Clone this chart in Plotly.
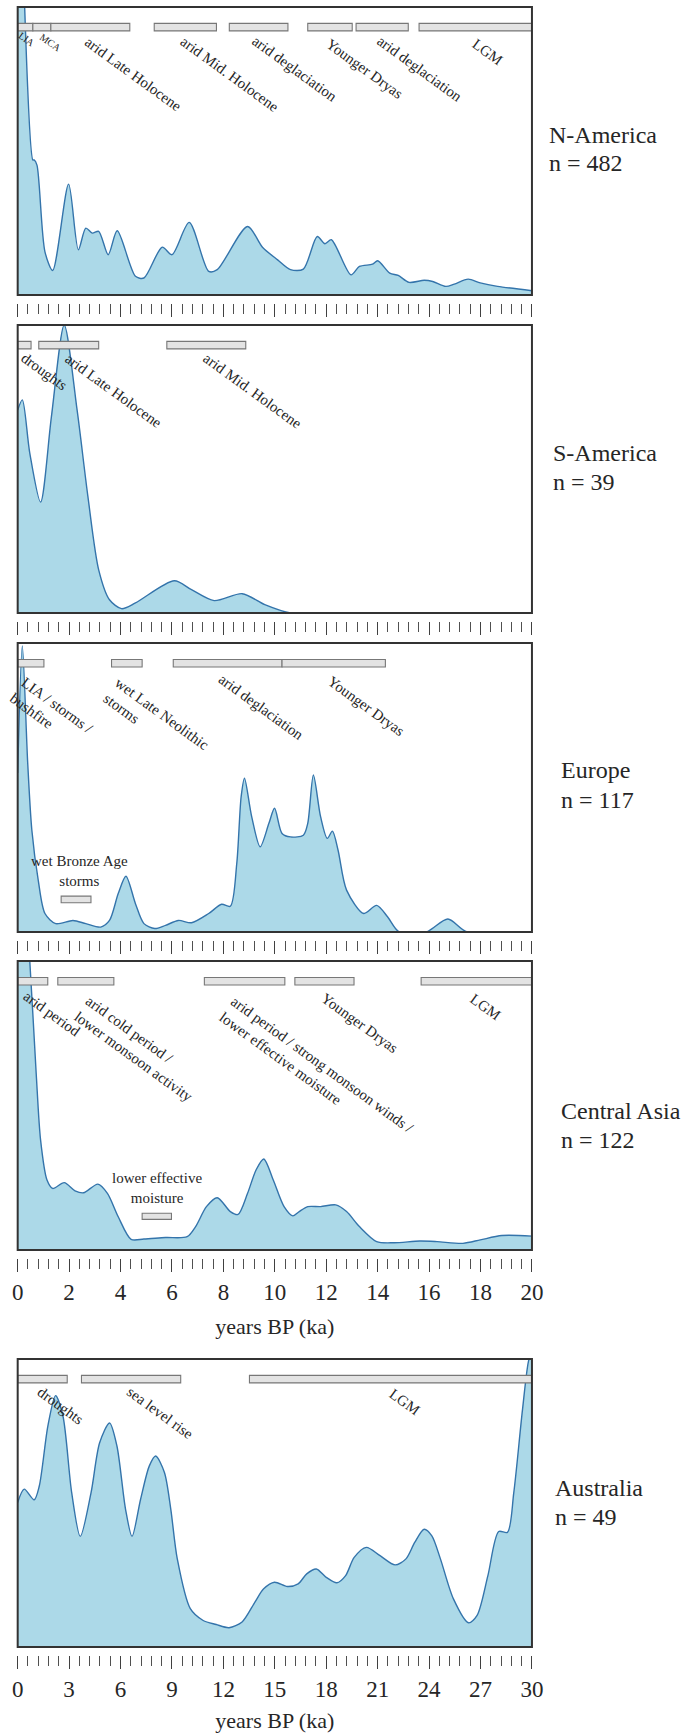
import plotly.graph_objects as go

# ---------------------------------------------------------------
# Summed probability of dated events (relative density) vs age
# ---------------------------------------------------------------

# N-America
na_age = [0, 0.10, 0.25, 0.59, 0.64, 0.75, 1.06, 1.36, 1.98, 2.36, 2.65, 2.90, 3.15, 3.52,
          3.87, 4.58, 4.91, 5.62, 6.00, 6.67, 7.43, 7.76, 8.94, 9.52, 10.11, 10.61, 11.11,
          11.65, 11.95, 12.20, 12.96, 13.29, 13.80, 14.00, 14.47, 14.80, 15.22, 15.81, 16.14,
          16.65, 16.98, 17.52, 17.99, 18.66, 20.0]
na_density = [1.30, 1.50, 1.05, 0.469, 0.469, 0.451, 0.150, 0.085, 0.385, 0.157, 0.232, 0.215,
              0.221, 0.140, 0.223, 0.065, 0.059, 0.166, 0.140, 0.252, 0.082, 0.088, 0.238, 0.166,
              0.122, 0.088, 0.090, 0.203, 0.178, 0.192, 0.070, 0.099, 0.107, 0.119, 0.076, 0.068,
              0.044, 0.051, 0.047, 0.030, 0.038, 0.055, 0.042, 0.030, 0.015]

# S-America
sa_age = [0, 0.18, 0.47, 0.89, 1.31, 1.81, 2.31, 2.73, 3.15, 3.57, 4.04, 4.58, 6.09, 6.76,
          7.64, 8.73, 9.61, 10.61, 12.0, 20.0]
sa_density = [0.705, 0.740, 0.555, 0.385, 0.680, 1.0, 0.705, 0.405, 0.150, 0.046, 0.015, 0.035,
              0.112, 0.081, 0.043, 0.067, 0.029, 0.0, 0.0, 0.0]

# Europe
eu_age = [0, 0.18, 0.39, 0.55, 0.80, 1.06, 1.48, 2.15, 2.65, 3.23, 3.57, 3.91, 4.21, 4.58,
          4.91, 5.33, 5.75, 6.25, 6.76, 7.43, 7.93, 8.27, 8.52, 8.69, 8.82, 9.10, 9.43, 9.77,
          9.99, 10.28, 10.61, 11.11, 11.28, 11.50, 11.78, 12.04, 12.24, 12.46, 12.79, 13.46,
          13.96, 14.39, 14.84, 15.89, 16.73, 17.48, 20.0]
eu_density = [0.55, 0.99, 0.584, 0.353, 0.179, 0.064, 0.029, 0.040, 0.029, 0.017, 0.040, 0.133,
              0.193, 0.098, 0.029, 0.012, 0.023, 0.040, 0.032, 0.064, 0.096, 0.089, 0.237, 0.468,
              0.532, 0.399, 0.295, 0.376, 0.428, 0.341, 0.329, 0.335, 0.376, 0.543, 0.399, 0.324,
              0.349, 0.283, 0.145, 0.064, 0.092, 0.052, 0.0, 0.0, 0.045, 0.0, 0.0]

# Central Asia
ca_age = [0, 0.30, 0.47, 0.72, 0.89, 1.14, 1.36, 1.81, 2.23, 2.56, 3.12, 3.49, 3.91, 4.41,
          4.91, 5.75, 6.59, 6.92, 7.34, 7.76, 8.27, 8.57, 8.94, 9.27, 9.57, 9.94, 10.36, 10.70,
          10.95, 11.28, 11.78, 12.37, 12.79, 13.29, 13.96, 14.64, 15.64, 16.31, 17.32, 17.99,
          18.83, 20.0]
ca_density = [1.4, 1.2, 1.0, 0.611, 0.381, 0.242, 0.213, 0.233, 0.205, 0.198, 0.228, 0.196,
              0.115, 0.037, 0.038, 0.043, 0.046, 0.081, 0.150, 0.181, 0.133, 0.123, 0.196, 0.277,
              0.315, 0.242, 0.150, 0.118, 0.133, 0.150, 0.150, 0.156, 0.133, 0.081, 0.029, 0.025,
              0.031, 0.029, 0.023, 0.035, 0.050, 0.048]

# Australia
au_age = [0, 0.38, 0.96, 1.26, 1.76, 2.21, 2.64, 3.15, 3.65, 4.28, 4.78, 5.36, 5.79, 6.29,
          6.67, 7.17, 7.68, 8.05, 8.56, 8.93, 9.31, 10.07, 10.82, 11.58, 12.33, 13.09, 13.84,
          14.35, 14.98, 15.73, 16.36, 16.86, 17.42, 18.00, 18.62, 19.13, 19.63, 20.34, 21.14,
          22.02, 22.65, 23.16, 23.71, 24.16, 24.66, 25.42, 26.30, 26.80, 27.43, 28.06, 28.57,
          28.94, 29.45, 29.82, 30.0]
au_density = [0.502, 0.548, 0.511, 0.559, 0.767, 0.873, 0.802, 0.536, 0.384, 0.536, 0.709,
              0.778, 0.698, 0.479, 0.384, 0.513, 0.629, 0.663, 0.606, 0.479, 0.306, 0.133,
              0.092, 0.078, 0.067, 0.087, 0.156, 0.202, 0.225, 0.210, 0.219, 0.254, 0.271,
              0.242, 0.223, 0.248, 0.311, 0.346, 0.317, 0.285, 0.306, 0.363, 0.409, 0.386,
              0.306, 0.167, 0.084, 0.110, 0.248, 0.401, 0.398, 0.536, 0.825, 0.998, 1.02]

# Regions and sample sizes
regions = ["N-America", "S-America", "Europe", "Central Asia", "Australia"]
sample_n = [482, 39, 117, 122, 49]

# Climate periods (name, start ka, end ka)
na_periods = ["LIA", "MCA", "arid Late Holocene", "arid Mid. Holocene", "arid deglaciation",
              "Younger Dryas", "arid deglaciation", "LGM"]
na_period_start = [0, 0.59, 1.29, 5.31, 8.23, 11.28, 13.16, 15.61]
na_period_end = [0.59, 1.29, 4.36, 7.73, 10.51, 13.01, 15.19, 20.0]

sa_periods = ["droughts", "arid Late Holocene", "arid Mid. Holocene"]
sa_period_start = [0, 0.82, 5.80]
sa_period_end = [0.52, 3.15, 8.87]

eu_periods = ["LIA / storms /<br>bushfire", "wet Late Neolithic<br>storms",
              "arid deglaciation", "Younger Dryas", "wet Bronze Age<br>storms"]
eu_period_start = [0, 3.65, 6.05, 10.28, 1.69]
eu_period_end = [1.02, 4.84, 10.28, 14.30, 2.85]

ca_periods = ["arid period", "arid cold period /<br>lower monsoon activity",
              "arid period / strong monsoon winds /<br>lower effective moisture",
              "Younger Dryas", "LGM", "lower effective<br>moisture"]
ca_period_start = [0, 1.56, 7.26, 10.78, 15.69, 4.84]
ca_period_end = [1.17, 3.74, 10.39, 13.08, 20.0, 5.98]

au_periods = ["droughts", "sea level rise", "LGM"]
au_period_start = [0, 3.72, 13.52]
au_period_end = [2.89, 9.51, 30.0]

# Axis ticks
x_max = [20, 20, 20, 20, 30]
major_step = [2, 2, 2, 2, 3]
minor_step = [0.4, 0.4, 0.4, 0.4, 0.6]
axis_title = "years BP (ka)"

# ---------------------------------------------------------------
# Layout geometry (pixels of the page)
# ---------------------------------------------------------------
W, H = 692, 1733
FONT = "'Liberation Serif', 'Times New Roman', Times, serif"
FILL = "#acd9e8"
LINE = "#3474ab"
BOX = "#333333"
TXT = "#262626"

panel_left, panel_right = 12, 540
panel_top = [7, 325, 643, 961, 1359]
panel_bottom = [295, 613, 932, 1250, 1647]
tick_gap = 8
show_labels = [False, False, False, True, True]
region_label_px = [(555, 135, 163), (560, 453, 482), (568, 770, 800),
                   (568, 1111, 1140), (562, 1488, 1517)]

# label placement: (x in ka, y as fraction of panel height, font size, angle)
bar_band = (0.917, 0.943)
na_place = [(0.36, 0.887, 10, 35), (1.28, 0.877, 10, 35), (4.49, 0.769, 15, 36),
            (8.23, 0.767, 15, 36), (10.78, 0.784, 15, 36), (13.50, 0.784, 15, 36),
            (15.64, 0.784, 15, 36), (18.27, 0.844, 15, 36)]
sa_place = [(1.06, 0.838, 15, 36), (3.74, 0.772, 15, 36), (9.14, 0.772, 15, 36)]
eu_place = [(1.33, 0.754, 15, 36), (5.38, 0.726, 15, 36), (9.47, 0.780, 15, 36),
            (13.55, 0.783, 15, 36), (2.40, 0.212, 15, 0)]
eu_band = [None, None, None, None, (0.101, 0.124)]
ca_place = [(1.34, 0.817, 15, 36), (4.72, 0.695, 15, 36), (11.63, 0.614, 15, 36),
            (13.29, 0.784, 15, 36), (18.19, 0.842, 15, 36), (5.41, 0.216, 15, 0)]
ca_band = [None, None, None, None, None, (0.106, 0.127)]
au_place = [(2.52, 0.836, 15, 36), (8.31, 0.811, 15, 36), (22.58, 0.851, 15, 36)]

series = [
    (na_age, na_density, na_periods, na_period_start, na_period_end, na_place, None),
    (sa_age, sa_density, sa_periods, sa_period_start, sa_period_end, sa_place, None),
    (eu_age, eu_density, eu_periods, eu_period_start, eu_period_end, eu_place, eu_band),
    (ca_age, ca_density, ca_periods, ca_period_start, ca_period_end, ca_place, ca_band),
    (au_age, au_density, au_periods, au_period_start, au_period_end, au_place, None),
]


def py(p):
    return 1 - p / H


fig = go.Figure()
shapes, annotations = [], []
layout_axes = {}

for i, (age, dens, names, starts, ends, place, bands) in enumerate(series):
    k = "" if i == 0 else str(i + 1)
    xa, ya = "x" + k, "y" + k

    fig.add_trace(go.Scatter(
        x=age, y=dens, xaxis=xa, yaxis=ya, mode="lines",
        line=dict(color=LINE, width=1.4, shape="spline", smoothing=0.8),
        fill="tozeroy", fillcolor=FILL, showlegend=False, hoverinfo="skip"))

    layout_axes["xaxis" + k] = dict(
        domain=[panel_left / W, panel_right / W], range=[0, x_max[i]],
        anchor="free", position=py(panel_bottom[i] + tick_gap),
        showline=False, showgrid=False, zeroline=False,
        ticks="outside", ticklen=13, tickwidth=1.4, tickcolor="#404040",
        tick0=0, dtick=major_step[i],
        minor=dict(ticks="outside", ticklen=10, tickwidth=1.1, tickcolor="#505050",
                   dtick=minor_step[i], tick0=0, showgrid=False),
        showticklabels=show_labels[i],
        tickfont=dict(family=FONT, size=23, color=TXT),
        title=dict(text=axis_title if show_labels[i] else "",
                   font=dict(family=FONT, size=22, color=TXT), standoff=15),
        fixedrange=True)
    layout_axes["yaxis" + k] = dict(
        domain=[py(panel_bottom[i]), py(panel_top[i])], range=[0, 1],
        anchor=xa, showline=False, showgrid=False, zeroline=False,
        ticks="", showticklabels=False, fixedrange=True)

    # period bars and their labels
    for j, name in enumerate(names):
        band = bar_band
        if bands is not None and bands[j] is not None:
            band = bands[j]
        shapes.append(dict(type="rect", xref=xa, yref=ya + " domain",
                           x0=starts[j], x1=ends[j], y0=band[0], y1=band[1],
                           fillcolor="#e3e3e3", line=dict(color="#777777", width=1.1),
                           layer="above"))
        lx, ly, fs, ang = place[j]
        annotations.append(dict(
            x=lx, y=ly, xref=xa, yref=ya + " domain", text=name, showarrow=False,
            textangle=ang, xanchor="center", yanchor="middle",
            align="left" if ang else "center",
            font=dict(family=FONT, size=fs, color=TXT)))

    # panel frame
    shapes.append(dict(type="rect", xref=xa + " domain", yref=ya + " domain",
                       x0=0, x1=1, y0=0, y1=1, line=dict(color=BOX, width=2),
                       layer="above"))

    # region name and sample size
    lx, ly1, ly2 = region_label_px[i]
    annotations.append(dict(x=lx / W, y=py(ly1), xref="paper", yref="paper",
                            text=regions[i], showarrow=False, xanchor="left",
                            yanchor="middle", font=dict(family=FONT, size=24, color=TXT)))
    annotations.append(dict(x=lx / W, y=py(ly2), xref="paper", yref="paper",
                            text="n = %d" % sample_n[i], showarrow=False, xanchor="left",
                            yanchor="middle", font=dict(family=FONT, size=24, color=TXT)))

fig.update_layout(
    width=W, height=H, margin=dict(l=0, r=0, t=0, b=0),
    font=dict(family=FONT, color=TXT),
    paper_bgcolor="white", plot_bgcolor="white",
    shapes=shapes, annotations=annotations, showlegend=False,
    **layout_axes)

fig.write_html("out.html", config={"displayModeBar": False})
